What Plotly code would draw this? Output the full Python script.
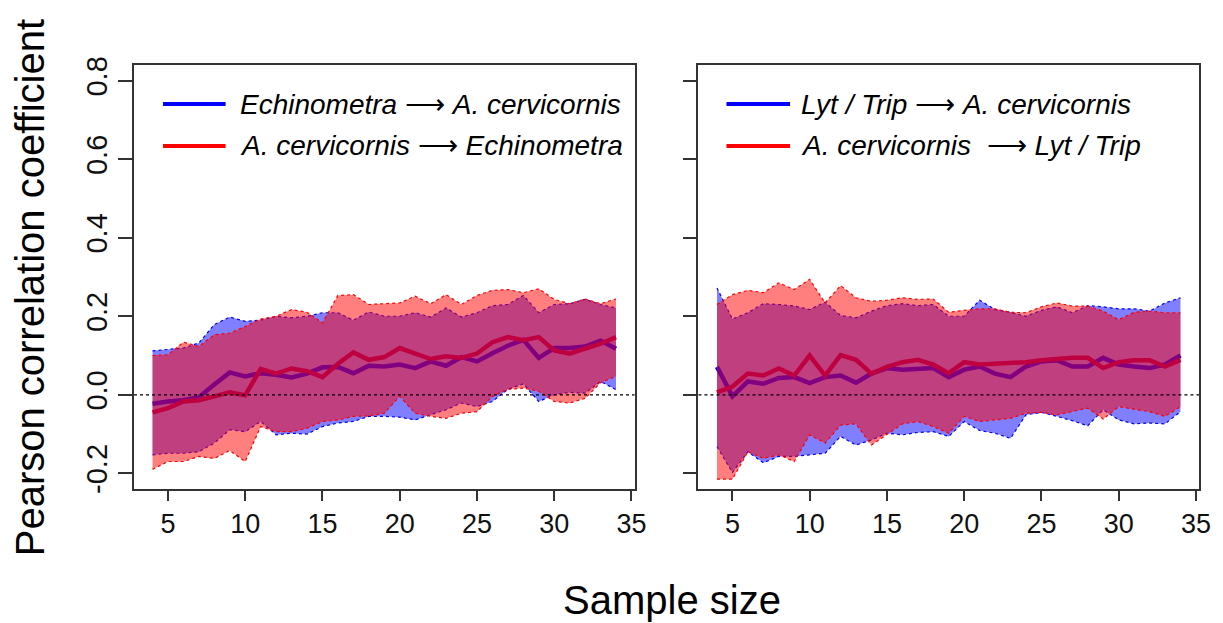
import plotly.graph_objects as go
from plotly.subplots import make_subplots

sample_size = list(range(4, 35))

# Left panel: Echinometra <-> A. cervicornis
blue_mean_L = [-0.023, -0.017, -0.014, -0.006, 0.026, 0.057, 0.047, 0.055, 0.051, 0.044, 0.054, 0.070, 0.071, 0.055, 0.074, 0.072,
               0.077, 0.068, 0.085, 0.074, 0.096, 0.085, 0.106, 0.125, 0.140, 0.094, 0.119, 0.119, 0.123, 0.138, 0.117]
red_mean_L = [-0.045, -0.034, -0.017, -0.014, -0.004, 0.006, -0.001, 0.066, 0.054, 0.067, 0.060, 0.045, 0.079, 0.108, 0.089, 0.096,
              0.119, 0.105, 0.091, 0.098, 0.094, 0.105, 0.134, 0.147, 0.139, 0.147, 0.113, 0.105, 0.117, 0.130, 0.147]
blue_hi_L = [0.112, 0.115, 0.119, 0.132, 0.179, 0.198, 0.187, 0.190, 0.200, 0.196, 0.200, 0.209, 0.209, 0.190, 0.211, 0.200,
             0.200, 0.209, 0.198, 0.221, 0.198, 0.209, 0.227, 0.230, 0.253, 0.209, 0.230, 0.232, 0.243, 0.230, 0.221]
red_hi_L = [0.100, 0.102, 0.134, 0.123, 0.153, 0.157, 0.174, 0.193, 0.200, 0.217, 0.210, 0.183, 0.253, 0.255, 0.230, 0.232,
            0.234, 0.251, 0.232, 0.255, 0.230, 0.253, 0.266, 0.268, 0.260, 0.270, 0.243, 0.232, 0.244, 0.232, 0.244]
blue_lo_L = [-0.153, -0.149, -0.149, -0.145, -0.123, -0.089, -0.094, -0.068, -0.102, -0.098, -0.100, -0.081, -0.072, -0.068, -0.055, -0.055,
             -0.057, -0.064, -0.051, -0.038, -0.021, -0.030, -0.017, 0.014, 0.028, -0.017, 0.000, 0.006, 0.004, 0.034, 0.013]
red_lo_L = [-0.190, -0.170, -0.170, -0.157, -0.162, -0.142, -0.170, -0.081, -0.094, -0.094, -0.085, -0.068, -0.064, -0.055, -0.054, -0.047,
            -0.004, -0.047, -0.055, -0.060, -0.047, -0.043, -0.004, 0.014, 0.017, 0.009, -0.017, -0.021, -0.009, 0.031, 0.047]

# Right panel: Lyt / Trip <-> A. cervicornis
blue_mean_R = [0.071, -0.004, 0.034, 0.028, 0.043, 0.045, 0.030, 0.045, 0.049, 0.031, 0.054, 0.068, 0.064, 0.066, 0.068,
               0.045, 0.064, 0.072, 0.054, 0.045, 0.072, 0.085, 0.088, 0.072, 0.072, 0.094, 0.077, 0.072, 0.068, 0.077, 0.100]
red_mean_R = [0.006, 0.021, 0.054, 0.049, 0.067, 0.049, 0.100, 0.049, 0.101, 0.089, 0.054, 0.071, 0.083, 0.089, 0.077,
              0.055, 0.083, 0.077, 0.079, 0.081, 0.083, 0.088, 0.091, 0.094, 0.094, 0.068, 0.083, 0.088, 0.088, 0.072, 0.089]
blue_hi_R = [0.272, 0.193, 0.209, 0.232, 0.230, 0.226, 0.217, 0.236, 0.202, 0.196, 0.213, 0.227, 0.232, 0.227, 0.230,
             0.200, 0.200, 0.241, 0.217, 0.210, 0.200, 0.215, 0.224, 0.209, 0.227, 0.224, 0.219, 0.219, 0.213, 0.234, 0.247]
red_hi_R = [0.230, 0.255, 0.266, 0.260, 0.285, 0.268, 0.294, 0.234, 0.278, 0.247, 0.238, 0.241, 0.247, 0.243, 0.244,
            0.210, 0.215, 0.219, 0.219, 0.210, 0.209, 0.224, 0.234, 0.226, 0.226, 0.213, 0.191, 0.210, 0.213, 0.209, 0.209]
blue_lo_R = [-0.132, -0.198, -0.145, -0.173, -0.157, -0.157, -0.153, -0.149, -0.106, -0.128, -0.115, -0.098, -0.102, -0.096, -0.094,
             -0.106, -0.068, -0.091, -0.098, -0.111, -0.051, -0.045, -0.055, -0.066, -0.079, -0.038, -0.064, -0.074, -0.072, -0.074, -0.043]
red_lo_R = [-0.215, -0.215, -0.145, -0.162, -0.153, -0.170, -0.102, -0.123, -0.077, -0.074, -0.128, -0.102, -0.074, -0.068, -0.081,
            -0.098, -0.055, -0.068, -0.064, -0.060, -0.047, -0.045, -0.051, -0.043, -0.034, -0.062, -0.030, -0.037, -0.043, -0.055, -0.030]

y_ticks = [-0.2, 0.0, 0.2, 0.4, 0.6, 0.8]
y_ticklabels = ["-0.2", "0.0", "0.2", "0.4", "0.6", "0.8"]
x_ticks = [5, 10, 15, 20, 25, 30, 35]

legend_left = ["<i>Echinometra</i> ⟶ <i>A. cervicornis</i>",
               "<i>A. cervicornis</i> ⟶ <i>Echinometra</i>"]
legend_right = ["<i>Lyt / Trip</i> ⟶ <i>A. cervicornis</i>",
                "<i>A. cervicornis</i>  ⟶ <i>Lyt / Trip</i>"]

FONT = "Liberation Sans, Arial, sans-serif"
BLUE = "rgb(0,0,255)"
RED = "rgb(255,0,0)"
BLUE_FILL = "rgba(0,0,255,0.5)"
RED_FILL = "rgba(255,0,0,0.5)"

fig = make_subplots(rows=1, cols=2, horizontal_spacing=0.06)


def add_panel(col, bm, rm, bhi, blo, rhi, rlo):
    # mean lines first (bands drawn over them, as in the original)
    fig.add_trace(go.Scatter(x=sample_size, y=bm, mode="lines", line=dict(color=BLUE, width=4.5),
                             showlegend=False, hoverinfo="skip"), row=1, col=col)
    fig.add_trace(go.Scatter(x=sample_size, y=rm, mode="lines", line=dict(color=RED, width=4.5),
                             showlegend=False, hoverinfo="skip"), row=1, col=col)
    for lo, hi, lc, fc in [(blo, bhi, BLUE, BLUE_FILL), (rlo, rhi, RED, RED_FILL)]:
        fig.add_trace(go.Scatter(x=sample_size, y=lo, mode="lines",
                                 line=dict(color=lc, width=1.2, dash="dot"),
                                 showlegend=False, hoverinfo="skip"), row=1, col=col)
        fig.add_trace(go.Scatter(x=sample_size, y=hi, mode="lines", fill="tonexty", fillcolor=fc,
                                 line=dict(color=lc, width=1.2, dash="dot"),
                                 showlegend=False, hoverinfo="skip"), row=1, col=col)


add_panel(1, blue_mean_L, red_mean_L, blue_hi_L, blue_lo_L, red_hi_L, red_lo_L)
add_panel(2, blue_mean_R, red_mean_R, blue_hi_R, blue_lo_R, red_hi_R, red_lo_R)

axis_common = dict(showline=True, linecolor="#333", linewidth=1.5, mirror=True,
                   ticks="outside", tickcolor="#333", tickwidth=1.5,
                   showgrid=False, zeroline=False)

fig.update_xaxes(range=[2.8, 35.2], tickvals=x_ticks, ticklen=10,
                 tickfont=dict(family=FONT, size=27, color="#111"), **axis_common)
fig.update_yaxes(range=[-0.24, 0.84], tickvals=y_ticks, ticktext=y_ticklabels, ticklen=14,
                 tickangle=-90, tickfont=dict(family=FONT, size=29, color="#111"), **axis_common)
fig.update_yaxes(showticklabels=False, row=1, col=2)

# horizontal dotted reference line at 0 in both panels
for xr, yr in [("x domain", "y"), ("x2 domain", "y2")]:
    fig.add_shape(type="line", xref=xr, yref=yr, x0=0, x1=1, y0=0, y1=0,
                  line=dict(color="black", width=1.2, dash="dot"), layer="above")

# legends
legend_rows_y = [0.908, 0.809]
for xr, x0, x1, xt, texts in [("x domain", 0.058, 0.183, 0.208, legend_left),
                              ("x2 domain", 0.056, 0.183, 0.201, legend_right)]:
    for yy, txt, col in zip(legend_rows_y, texts, [BLUE, RED]):
        fig.add_shape(type="line", xref=xr, yref="paper", x0=x0, x1=x1, y0=yy, y1=yy,
                      line=dict(color=col, width=4))
        fig.add_annotation(xref=xr, yref="paper", x=xt, y=yy, text=txt, showarrow=False,
                           xanchor="left", yanchor="middle",
                           font=dict(family=FONT, size=28, color="black"))

# axis titles
fig.add_annotation(xref="paper", yref="paper", x=-0.0974, y=0.474, text="Pearson correlation coefficient",
                   textangle=-90, showarrow=False, xanchor="center", yanchor="middle",
                   font=dict(family=FONT, size=40, color="black"))
fig.add_annotation(xref="paper", yref="paper", x=0.5056, y=-0.262, text="Sample size",
                   showarrow=False, xanchor="center", yanchor="middle",
                   font=dict(family=FONT, size=40, color="black"))

fig.update_layout(width=1223, height=623, margin=dict(l=134, r=21, t=65, b=134),
                  plot_bgcolor="white", paper_bgcolor="white", showlegend=False)
fig.layout.xaxis.domain = [0, 0.47]
fig.layout.xaxis2.domain = [0.53, 1]

fig.write_html("out.html")
